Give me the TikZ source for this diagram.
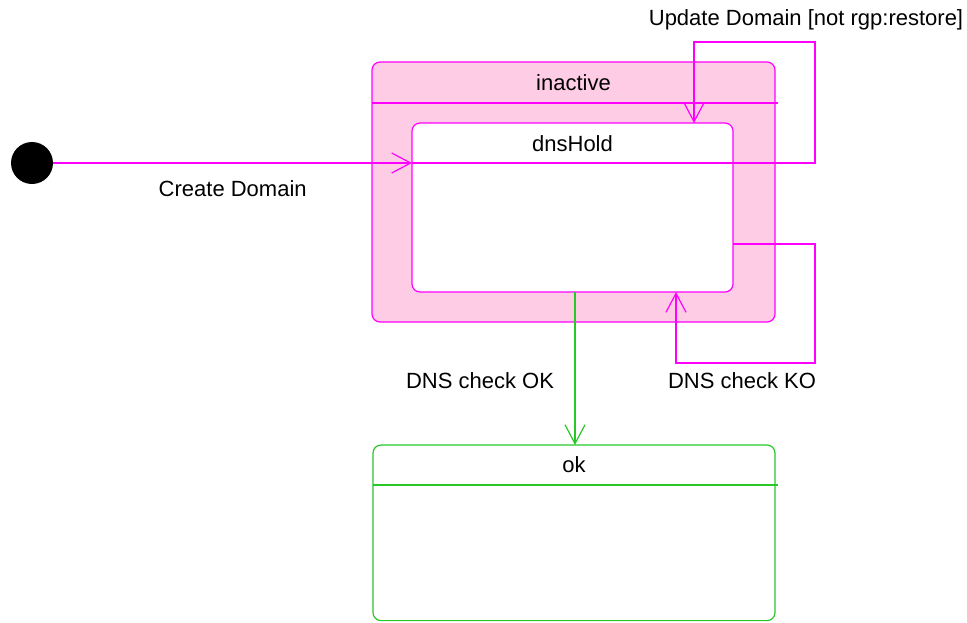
\documentclass[tikz,border=0pt]{standalone}
\usepackage{fontspec}
\setmainfont{Liberation Sans}
\usetikzlibrary{arrows.meta}
\definecolor{statepink}{RGB}{255,0,255}
\definecolor{statefill}{RGB}{255,204,230}
\definecolor{stategreen}{RGB}{40,200,40}
\begin{document}
\begin{tikzpicture}
[x=0.5pt,y=-0.5pt,
  statedecorate/.style={shape=rectangle,draw,line width=0.6pt,rounded corners=4pt,inner sep=0pt,outer sep=0pt},
  labeldecorate/.style={inner sep=0pt,text=black,font=\fontsize{11}{13}\selectfont},
  arrowdecorate/.style={-{Straight Barb[length=9.5pt,width=10pt]},line width=0.6pt}]
\useasboundingbox (0,0) rectangle (967,622);
%% states
\node (init) at (32,163) [shape=circle,fill=black,minimum size=21pt,inner sep=0pt] {};
\node (inactive) at (573.5,192) [statedecorate,draw=statepink,fill=statefill,minimum width=201.5pt,minimum height=130pt] {};
\node (dnsHold) at (572.5,207.5) [statedecorate,draw=statepink,fill=white,minimum width=160.5pt,minimum height=84.5pt] {};
\node (ok) at (574,532.8) [statedecorate,draw=stategreen,fill=white,minimum width=201pt,minimum height=87.8pt] {};
\foreach \statename/\y in {inactive/83, dnsHold/144, ok/465} {
  \node (\statename-title) at (\statename.center |- 0,\y) [labeldecorate] {\statename};
}
%% compartments
\draw[statepink,line width=0.6pt] (inactive.west |- 0,103) -- ++(406,0);
\draw[stategreen,line width=0.6pt] (ok.west |- 0,485) -- ++(405,0);
%% transitions
\coordinate (updright) at (815,42);
\coordinate (updleft) at (694,42);
\coordinate (koright) at (815,363);
\coordinate (koleft) at (676,363);
\draw[arrowdecorate,statepink] (init) -- (init -| dnsHold.west)
  node[midway,labeldecorate,yshift=-13pt] {Create Domain};
\draw[arrowdecorate,statepink] (init -| dnsHold.west) -| (updright) -- (updleft) -- (updleft |- dnsHold.north);
\draw[arrowdecorate,statepink] (dnsHold.east |- 0,244) -| (koright) -- (koleft) -- (koleft |- dnsHold.south);
\draw[arrowdecorate,stategreen] (dnsHold.south -| 575,0) -- (ok.north -| 575,0);
%% labels
\node (updlabel) at (806,20) [labeldecorate] {Update Domain [not rgp:restore]};
\node (kolabel) at (742,381) [labeldecorate] {DNS check KO};
\node (oklabel) at (480,381) [labeldecorate] {DNS check OK};
\end{tikzpicture}
\end{document}
